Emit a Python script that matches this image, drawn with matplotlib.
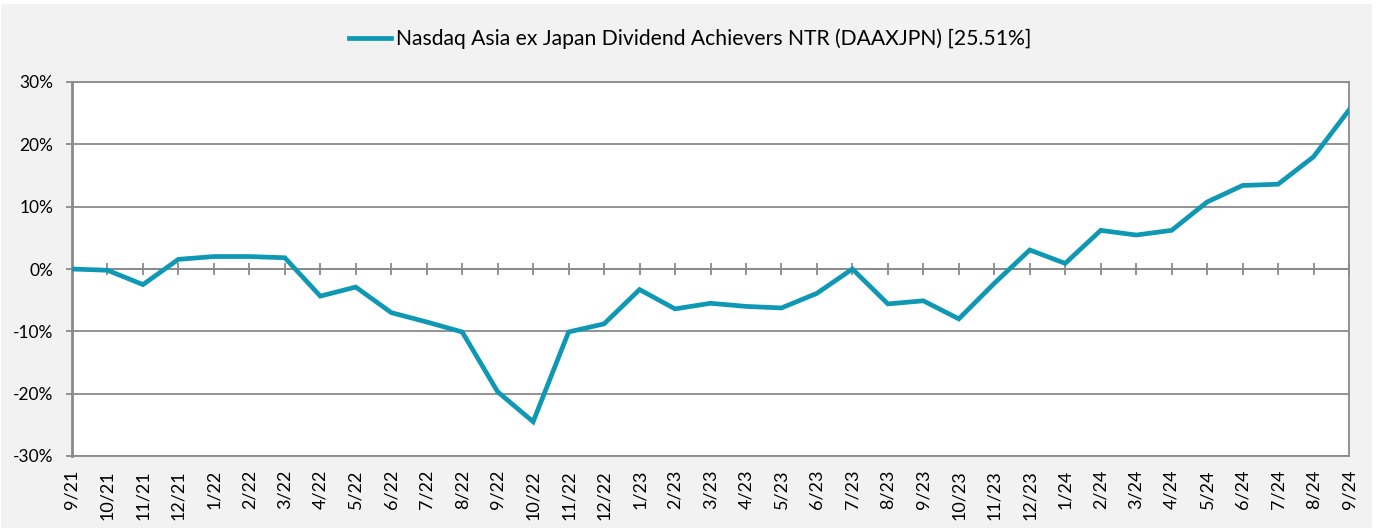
import matplotlib
matplotlib.use("Agg")
import matplotlib.pyplot as plt
from matplotlib.patches import Rectangle
from matplotlib.ticker import FuncFormatter
import numpy as np

# Monthly cumulative return, Sep 2021 - Sep 2024
months = ["9/21", "10/21", "11/21", "12/21",
          "1/22", "2/22", "3/22", "4/22", "5/22", "6/22", "7/22", "8/22",
          "9/22", "10/22", "11/22", "12/22",
          "1/23", "2/23", "3/23", "4/23", "5/23", "6/23", "7/23", "8/23",
          "9/23", "10/23", "11/23", "12/23",
          "1/24", "2/24", "3/24", "4/24", "5/24", "6/24", "7/24", "8/24", "9/24"]
returns = [0.0, -0.2, -2.5, 1.55,
           2.0, 2.0, 1.8, -4.35, -2.9, -7.0, -8.5, -10.1,
           -19.7, -24.5, -10.1, -8.8,
           -3.3, -6.4, -5.5, -6.0, -6.25, -3.9, 0.0, -5.6,
           -5.1, -8.0, -2.3, 3.05,
           0.9, 6.2, 5.45, 6.2, 10.75, 13.4, 13.6, 18.0, 25.51]
series_name = "Nasdaq Asia ex Japan Dividend Achievers NTR (DAAXJPN)"
y_ticks = [-30, -20, -10, 0, 10, 20, 30]

teal = "#0f98b4"
grid_gray = "#8a8a8a"
bg_gray = "#f2f2f2"

plt.rcParams["font.family"] = ["Lato", "DejaVu Sans"]

fig = plt.figure(figsize=(13.8, 5.28), dpi=100, facecolor="white")
fig.add_artist(Rectangle((1 / 1380, 0), 1371 / 1380, 524 / 528,
                         transform=fig.transFigure, facecolor=bg_gray,
                         edgecolor="none", zorder=-1))

ax = fig.add_axes([72 / 1380, 72 / 528, 1277 / 1380, 374 / 528])
ax.set_facecolor("white")

x = np.arange(len(months))
ax.plot(x, returns, color=teal, linewidth=3.4, solid_joinstyle="miter",
        label=f"{series_name} [{returns[-1]:.2f}%]", zorder=3)

# zero line with month tick marks crossing it
ax.axhline(0, color=grid_gray, linewidth=1.3, zorder=2)
ax.plot(x, np.zeros(len(x)), linestyle="none", marker="|", markersize=9,
        markeredgewidth=1.3, color=grid_gray, zorder=2)

ax.set_xlim(0, len(months) - 1)
ax.set_ylim(-30, 30)
ax.set_yticks(y_ticks)
ax.yaxis.set_major_formatter(FuncFormatter(lambda v, _: f"{v:.0f}%"))
ax.set_xticks(x)
ax.set_xticklabels(months, rotation=90, fontsize=13)
ax.tick_params(axis="x", length=0, pad=10)
ax.tick_params(axis="y", length=4.5, width=1.3, color=grid_gray,
               labelsize=12.5, pad=9)
ax.grid(axis="y", color=grid_gray, linewidth=1.3, zorder=1)
ax.set_axisbelow(True)

for side in ["left", "right", "bottom", "top"]:
    ax.spines[side].set_color(grid_gray)
    ax.spines[side].set_linewidth(1.3)
ax.spines["left"].set_linewidth(2.0)

leg = fig.legend(loc="center", bbox_to_anchor=(0.5, 1 - 39 / 528),
                 frameon=False, fontsize=15.2, handlelength=2.0,
                 handletextpad=0.25)

fig.savefig("out.png", dpi=100, facecolor=fig.get_facecolor())
